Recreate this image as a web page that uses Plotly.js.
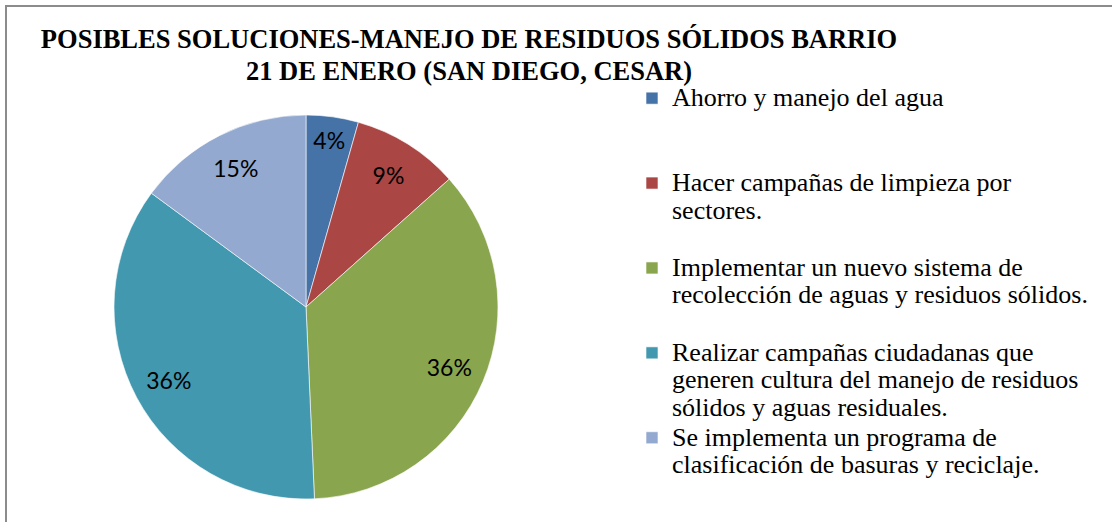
<!DOCTYPE html>
<html>
<head>
<meta charset="utf-8">
<script src="https://cdn.plot.ly/plotly-3.0.1.min.js"></script>
<style>
  html, body { margin: 0; padding: 0; background: #fff; }
  #wrap { position: relative; width: 1112px; height: 522px; overflow: hidden; }
  #chart { width: 1112px; height: 522px; }
  #frame { position: absolute; left: 5px; top: 5px; width: 2000px; height: 2000px;
           border-left: 2px solid #8c8c8c; border-top: 2px solid #8c8c8c; pointer-events: none; }
</style>
</head>
<body>
<div id="wrap"><div id="chart"></div><div id="frame"></div></div>
<script>
// ---- data ----
var titleLines = ["POSIBLES SOLUCIONES-MANEJO DE RESIDUOS SÓLIDOS BARRIO", "21 DE ENERO (SAN DIEGO, CESAR)"];
var categoryLines = [
  ["Ahorro y manejo del agua"],
  ["Hacer campañas de limpieza por", "sectores."],
  ["Implementar un nuevo sistema de", "recolección de aguas y residuos sólidos."],
  ["Realizar campañas ciudadanas que", "generen cultura del manejo de residuos", "sólidos y aguas residuales."],
  ["Se implementa un programa de", "clasificación de basuras y reciclaje."]
];
var values = [4.4, 9.0, 35.9, 35.8, 14.9];
var colors = ["#4572A7", "#AA4643", "#89A54E", "#4198AF", "#93A9CF"];

// ---- build ----
var legendFontSize = 21;      // controls line spacing
var legendGlyphSize = 26;     // visible glyph size
function legendText(lines) {
  var out = lines.map(function (l) { return '<span style="font-size:' + legendGlyphSize + 'px">' + l + '</span>'; });
  while (out.length < 3) out.push(' ');
  return out.join('<br>');
}
var labels = categoryLines.map(legendText);

var W = 1112, H = 522;
var pieDomain = { x: [114 / W, 498 / W], y: [1 - 499 / H, 1 - 115 / H] };

var slices = {
  type: 'pie',
  labels: labels,
  values: values,
  sort: false,
  direction: 'clockwise',
  rotation: 0,
  marker: { colors: colors, line: { color: '#ffffff', width: 0.6 } },
  textinfo: 'none',
  hoverinfo: 'label+percent',
  domain: pieDomain
};

// transparent ring carrying the percentage labels (places them near the rim, as in the original)
var labelRing = {
  type: 'pie',
  labels: labels,
  values: values,
  sort: false,
  direction: 'clockwise',
  rotation: 0,
  hole: 0.62,
  showlegend: false,
  marker: { colors: colors.map(function () { return 'rgba(0,0,0,0)'; }), line: { width: 0 } },
  texttemplate: '%{percent:.0%}',
  textposition: 'inside',
  insidetextorientation: 'horizontal',
  textfont: { family: 'Lato, "Liberation Sans", sans-serif', size: 23, color: '#000' },
  hoverinfo: 'skip',
  domain: pieDomain
};

var layout = {
  width: W, height: H,
  margin: { l: 0, r: 0, t: 0, b: 0 },
  paper_bgcolor: '#ffffff',
  showlegend: true,
  title: {
    text: titleLines.map(function (l) { return '<span style="font-size:26.5px">' + l + '</span>'; }).join('<br>'),
    font: { family: '"Liberation Serif", "Times New Roman", serif', size: 24.5, color: '#000', weight: 'bold' },
    x: 469 / W, xanchor: 'center', xref: 'paper',
    y: 1 - 48 / H, yanchor: 'top', yref: 'container'
  },
  legend: {
    x: 632 / W, xanchor: 'left',
    y: 1 - 78 / H, yanchor: 'top',
    valign: 'top',
    font: { family: '"Liberation Serif", "Times New Roman", serif', size: legendFontSize, color: '#000' },
    bgcolor: 'rgba(0,0,0,0)',
    traceorder: 'normal'
  }
};

Plotly.newPlot('chart', [slices, labelRing], layout, { displayModeBar: false, staticPlot: true });
</script>
</body>
</html>
